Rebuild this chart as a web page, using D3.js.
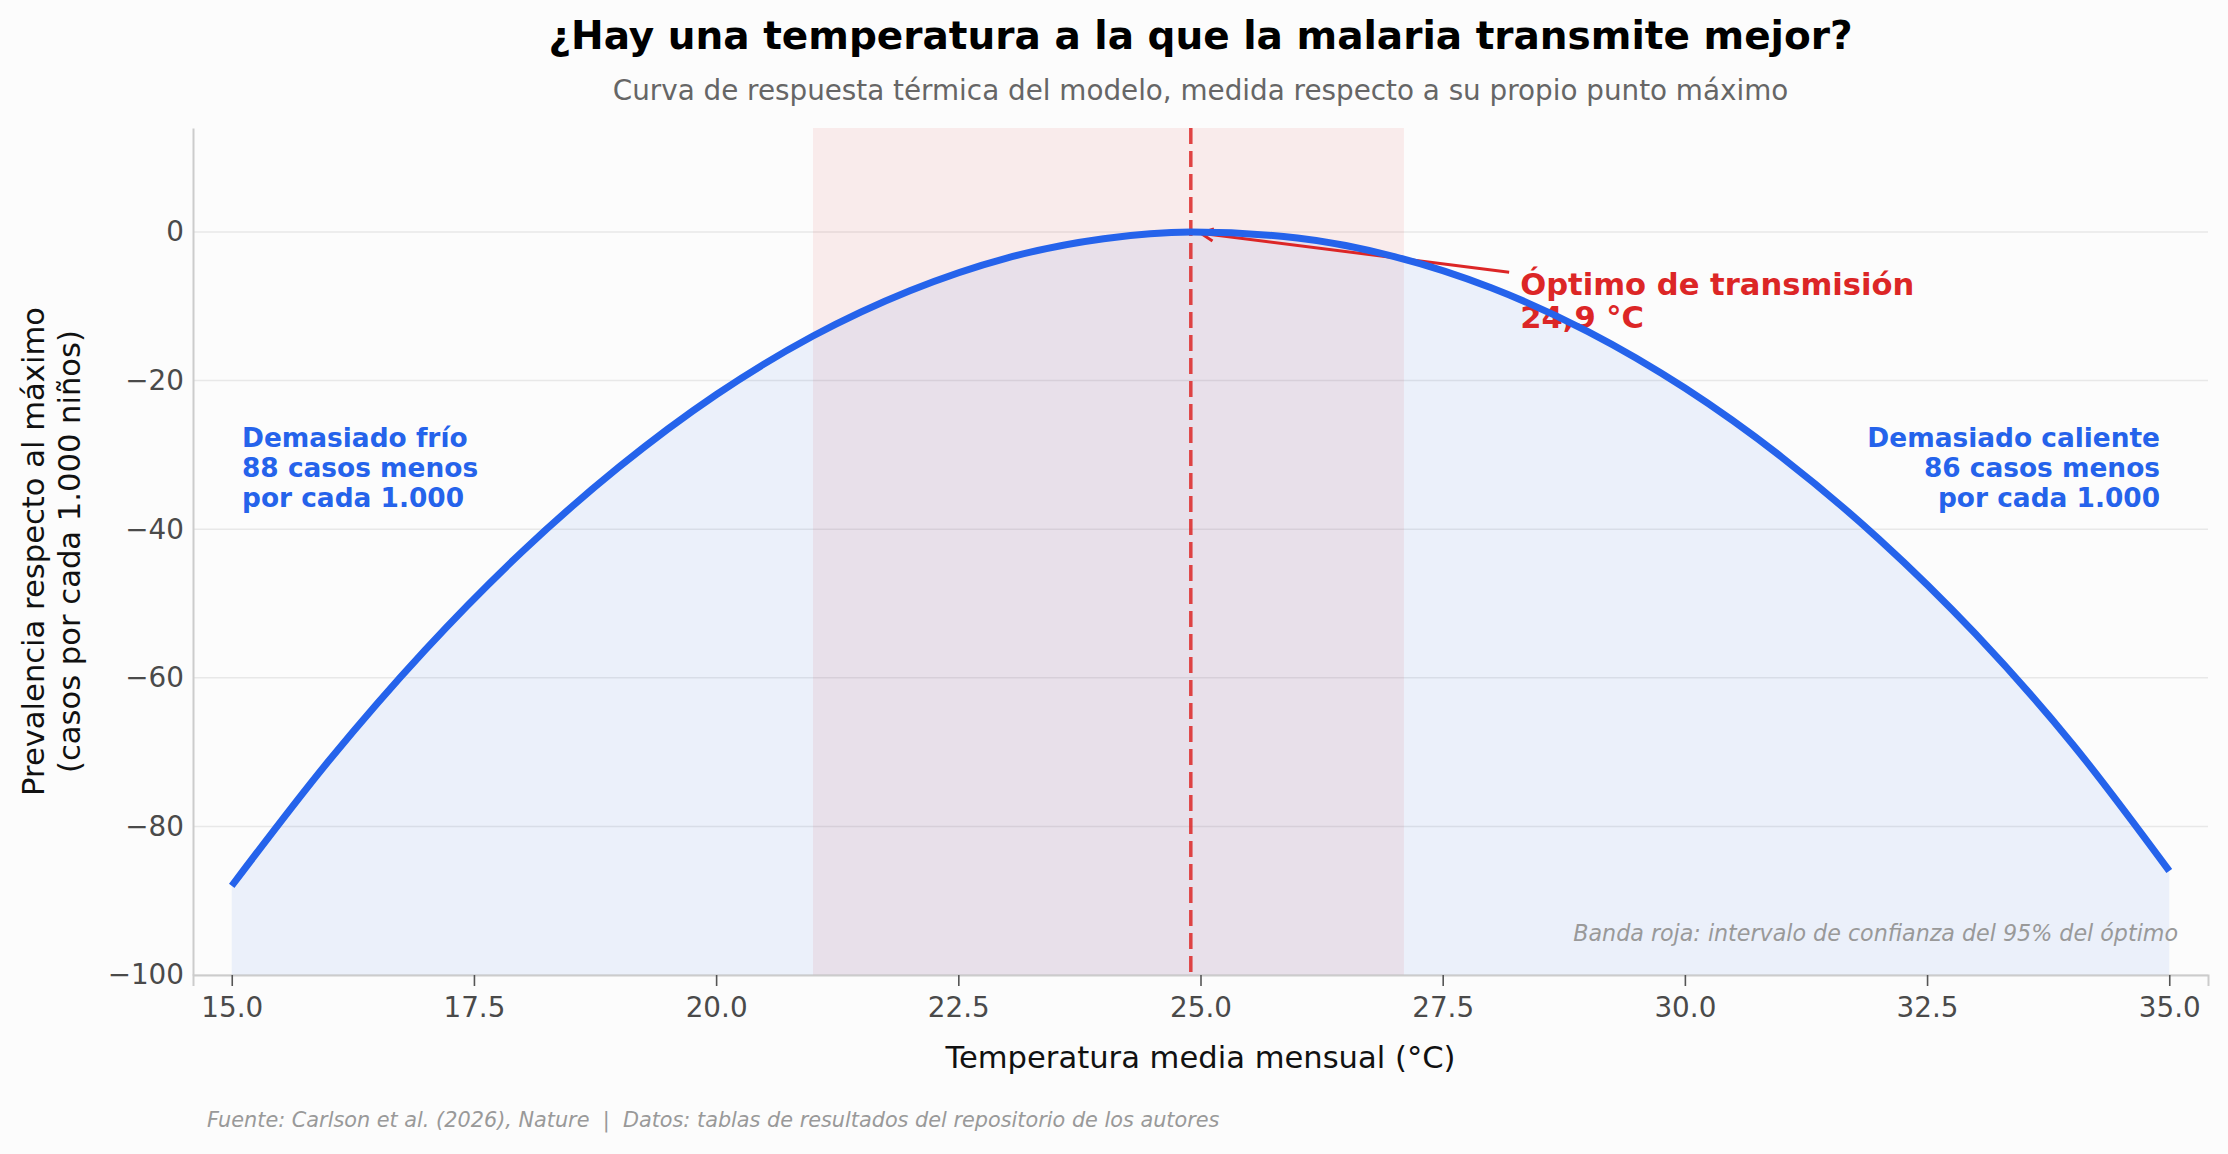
<!DOCTYPE html>
<html>
<head>
<meta charset="utf-8">
<script src="https://cdn.jsdelivr.net/npm/d3@7"></script>
<style>
  body { margin: 0; background: #fcfcfc; }
  svg { display: block; font-family: "DejaVu Sans", sans-serif; }
</style>
</head>
<body>
<div id="chart"></div>
<script>
// Curve (temperature °C -> prevalence vs. peak, per 1,000 children)
const temps      = [15, 16, 17, 18, 19, 20, 21, 22, 23, 24, 24.9, 26, 27, 28, 29, 30, 31, 32, 33, 34, 35];
const prevalence = [-88, -71.2, -56.2, -43.0, -31.6, -21.9, -14.0, -7.9, -3.5, -0.9, 0, -0.8, -3.3, -7.5, -13.4, -21.0, -30.3, -41.3, -54.1, -68.9, -86];

const optimum = 24.9;
const ciRange = [21.0, 27.1];
const coldDrop = 88;
const hotDrop = 86;

const xTicks = [15, 17.5, 20, 22.5, 25, 27.5, 30, 32.5, 35];
const yTicks = [0, -20, -40, -60, -80, -100];

const data = temps.map((t, i) => ({ t: t, v: prevalence[i] }));

const W = 2228, H = 1154;
const margin = { top: 128, right: 20, bottom: 179, left: 193 };
const width = W - margin.left - margin.right;
const height = H - margin.top - margin.bottom;

const blue = "#2563eb", red = "#dc2626";

const svg = d3.select("#chart").append("svg")
    .attr("width", W)
    .attr("height", H);

svg.append("rect").attr("width", W).attr("height", H).attr("fill", "#fcfcfc");

const g = svg.append("g")
    .attr("transform", `translate(${margin.left},${margin.top})`);

const x = d3.scaleLinear().domain([14.6, 35.4]).range([0, width]);
const y = d3.scaleLinear().domain([-100, 14]).range([height, 0]);

// horizontal grid
g.selectAll(".grid")
    .data(yTicks)
    .enter().append("line")
    .attr("x1", 0).attr("x2", width)
    .attr("y1", d => y(d)).attr("y2", d => y(d))
    .attr("stroke", "#e8e8e8")
    .attr("stroke-width", 1.5);

// confidence band of the optimum
g.append("rect")
    .attr("x", x(ciRange[0]))
    .attr("width", x(ciRange[1]) - x(ciRange[0]))
    .attr("y", 0)
    .attr("height", height)
    .attr("fill", red)
    .attr("fill-opacity", 0.08);

// area under the curve
const area = d3.area()
    .x(d => x(d.t))
    .y0(y(-100))
    .y1(d => y(d.v))
    .curve(d3.curveMonotoneX);

g.append("path")
    .datum(data)
    .attr("d", area)
    .attr("fill", blue)
    .attr("fill-opacity", 0.08);

// optimum line
g.append("line")
    .attr("x1", x(optimum)).attr("x2", x(optimum))
    .attr("y1", 0).attr("y2", height)
    .attr("stroke", red)
    .attr("stroke-opacity", 0.85)
    .attr("stroke-width", 3.5)
    .attr("stroke-dasharray", "16,7");

// axes
const xAxis = g.append("g")
    .attr("transform", `translate(0,${height})`)
    .call(d3.axisBottom(x).tickValues(xTicks).tickFormat(d3.format(".1f")).tickSize(11).tickPadding(11));
xAxis.select(".domain").attr("stroke", "#cccccc").attr("stroke-width", 2);
xAxis.selectAll(".tick line").attr("stroke", "#555").attr("stroke-width", 1.6);
xAxis.selectAll(".tick text").attr("fill", "#4a4a4a").style("font-size", "27.8px").style("font-family", "DejaVu Sans");

const yAxis = g.append("g")
    .call(d3.axisLeft(y).tickValues(yTicks).tickSize(0).tickPadding(9));
yAxis.select(".domain").attr("stroke", "#cccccc").attr("stroke-width", 2);
yAxis.selectAll(".tick text").attr("fill", "#4a4a4a").style("font-size", "27.8px").style("font-family", "DejaVu Sans");

// annotation for the optimum (drawn beneath the curve)
const tipX = x(optimum), tipY = y(0);
const textX = x(28.3), textY = y(-8.5);
const startX = textX - 11, startY = textY - 23;
const ang = Math.atan2(tipY - startY, tipX - startX);
const endX = tipX - Math.cos(ang) * 10, endY = tipY - Math.sin(ang) * 10;

g.append("line")
    .attr("x1", startX).attr("y1", startY)
    .attr("x2", endX).attr("y2", endY)
    .attr("stroke", red)
    .attr("stroke-width", 3);

const headLen = 14;
g.append("path")
    .attr("d", `M${endX + Math.cos(ang + 0.45) * -headLen},${endY + Math.sin(ang + 0.45) * -headLen} L${endX},${endY} L${endX + Math.cos(ang - 0.45) * -headLen},${endY + Math.sin(ang - 0.45) * -headLen}`)
    .attr("fill", "none")
    .attr("stroke", red)
    .attr("stroke-width", 3);

const optText = g.append("text")
    .attr("x", textX).attr("y", textY)
    .attr("fill", red)
    .style("font-size", "30.6px")
    .style("font-weight", "bold");
optText.append("tspan").attr("x", textX).text("Óptimo de transmisión");
optText.append("tspan").attr("x", textX).attr("dy", 33).text(d3.format(".1f")(optimum).replace(".", ",") + " °C");

// curve
g.append("path")
    .datum(data)
    .attr("d", d3.line().x(d => x(d.t)).y(d => y(d.v)).curve(d3.curveMonotoneX))
    .attr("fill", "none")
    .attr("stroke", blue)
    .attr("stroke-width", 7);

// side notes
function note(lines, px, anchor) {
    const t = g.append("text")
        .attr("x", px).attr("y", 447 - margin.top)
        .attr("fill", blue)
        .attr("text-anchor", anchor)
        .style("font-size", "26.4px")
        .style("font-weight", "bold");
    lines.forEach((s, i) => t.append("tspan").attr("x", px).attr("dy", i ? 30 : 0).text(s));
}
note(["Demasiado frío", `${coldDrop} casos menos`, "por cada 1.000"], 242 - margin.left, "start");
note(["Demasiado caliente", `${hotDrop} casos menos`, "por cada 1.000"], 2160 - margin.left, "end");

g.append("text")
    .attr("x", 2178 - margin.left).attr("y", 941 - margin.top)
    .attr("text-anchor", "end")
    .attr("fill", "#999")
    .style("font-size", "22.2px")
    .style("font-style", "italic")
    .text("Banda roja: intervalo de confianza del 95% del óptimo");

// axis labels
g.append("text")
    .attr("x", width / 2).attr("y", 1068 - margin.top)
    .attr("text-anchor", "middle")
    .attr("fill", "#111")
    .style("font-size", "30.6px")
    .text("Temperatura media mensual (°C)");

const yl = svg.append("text")
    .attr("transform", `translate(0,${margin.top + height / 2}) rotate(-90)`)
    .attr("text-anchor", "middle")
    .attr("fill", "#111")
    .style("font-size", "30.6px");
yl.append("tspan").attr("x", 0).attr("y", 44).text("Prevalencia respecto al máximo");
yl.append("tspan").attr("x", 0).attr("y", 80).text("(casos por cada 1.000 niños)");

// titles
svg.append("text")
    .attr("x", margin.left + width / 2).attr("y", 49)
    .attr("text-anchor", "middle")
    .attr("fill", "#000")
    .style("font-size", "39px")
    .style("font-weight", "bold")
    .text("¿Hay una temperatura a la que la malaria transmite mejor?");

svg.append("text")
    .attr("x", margin.left + width / 2).attr("y", 100)
    .attr("text-anchor", "middle")
    .attr("fill", "#666")
    .style("font-size", "27.8px")
    .text("Curva de respuesta térmica del modelo, medida respecto a su propio punto máximo");

svg.append("text")
    .attr("x", 207).attr("y", 1127)
    .attr("fill", "#999")
    .style("font-size", "20.8px")
    .style("font-style", "italic")
    .style("white-space", "pre")
    .text("Fuente: Carlson et al. (2026), Nature  |  Datos: tablas de resultados del repositorio de los autores");
</script>
</body>
</html>
